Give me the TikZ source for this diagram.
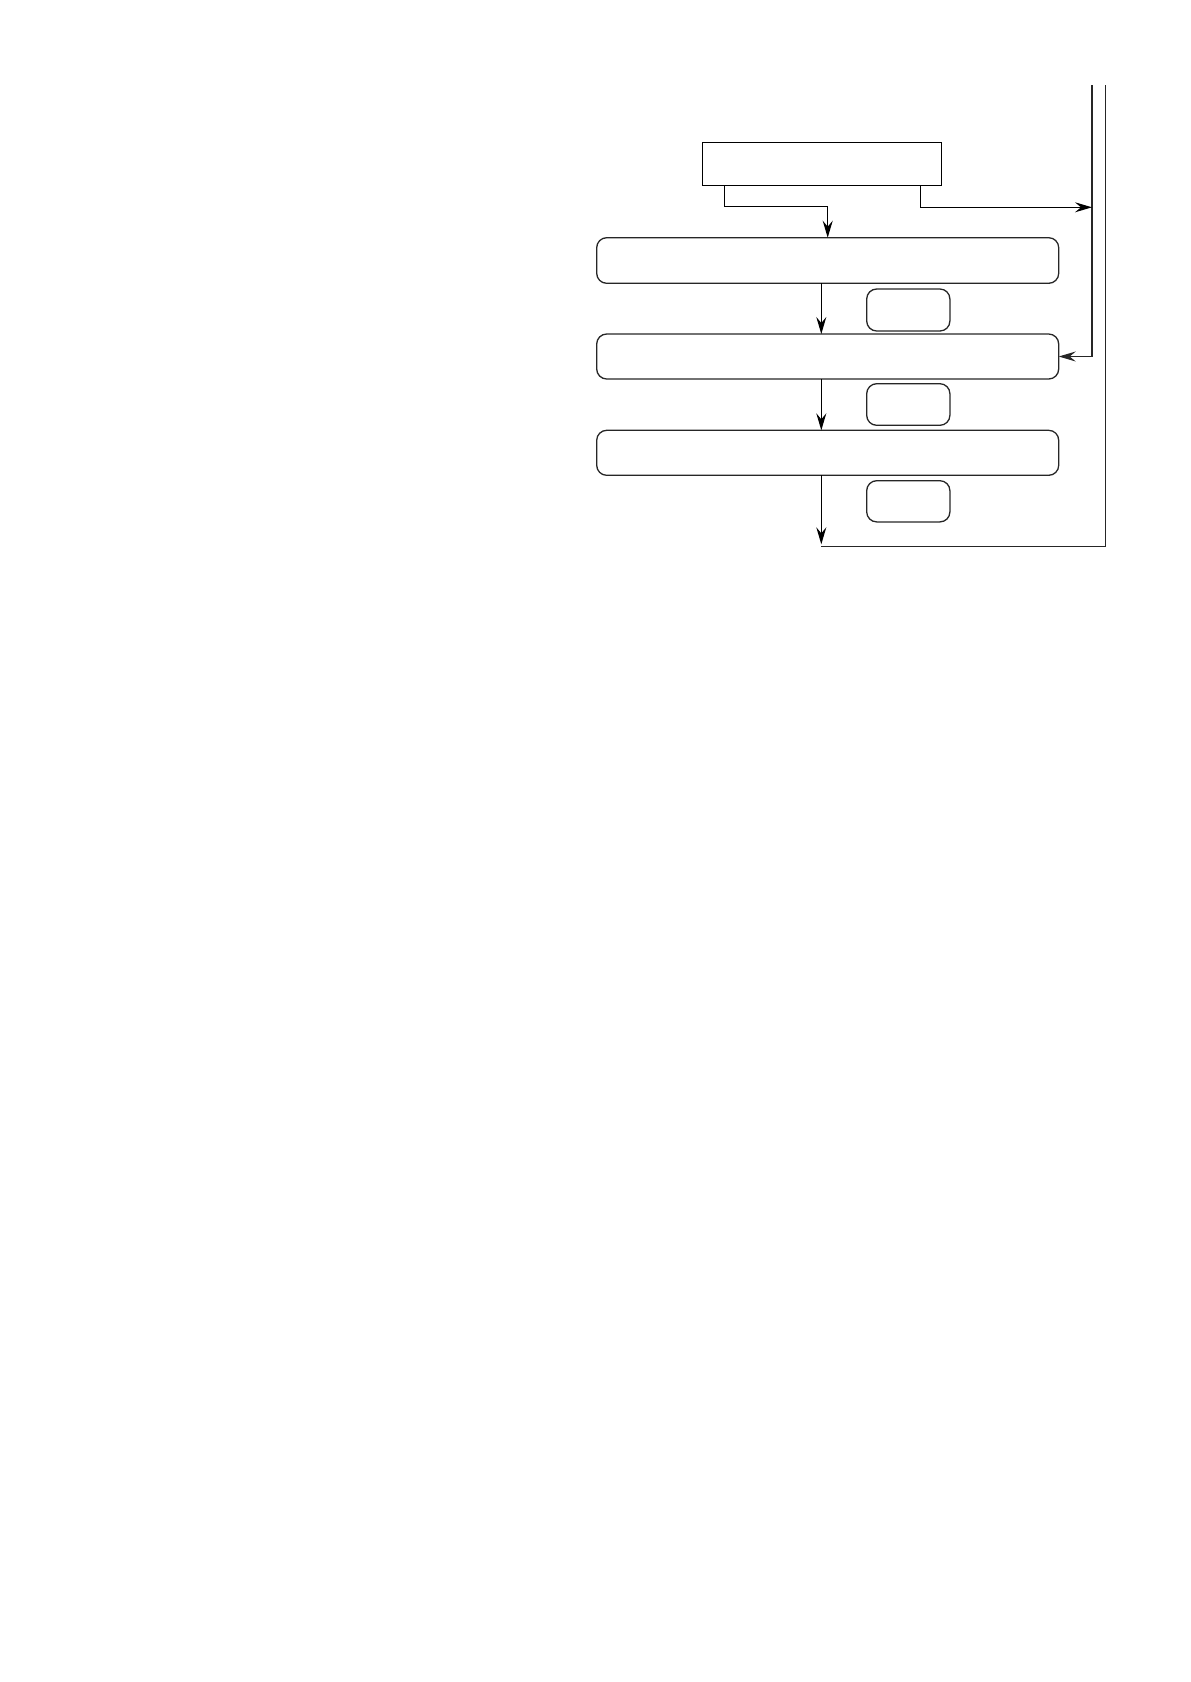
\documentclass[tikz,border=0pt]{standalone}
\usetikzlibrary{arrows.meta,calc}
\begin{document}
\begin{tikzpicture}[x=0.5pt,y=-0.5pt,
  line width=0.65pt,
  sq/.style={draw=black,line width=0.65pt,inner sep=0pt,outer sep=0pt},
  rbox/.style={draw=black!85,line width=0.65pt,rounded corners=5pt,inner sep=0pt,outer sep=0pt},
  arr/.style={-{Stealth[length=8.5pt,width=5pt,inset=3pt]}},
  rail/.style={draw=black!85,line width=0.65pt}]
\useasboundingbox (0,0) rectangle (1190,1682);
% top box
\node[sq,minimum width=119.3pt,minimum height=21.5pt] (top) at (822,163.8) {};
% wide rounded boxes
\node[rbox,minimum width=231pt,minimum height=22.8pt] (box1) at (827.7,260.5) {};
\node[rbox,minimum width=231pt,minimum height=22.5pt] (box2) at (827.7,356.5) {};
\node[rbox,minimum width=231pt,minimum height=22.5pt] (box3) at (827.7,452.8) {};
% small rounded boxes
\node[rbox,minimum width=41.6pt,minimum height=21pt] (s1) at (908.3,310) {};
\node[rbox,minimum width=41.6pt,minimum height=20.8pt] (s2) at (908.3,404.5) {};
\node[rbox,minimum width=41.6pt,minimum height=20.6pt] (s3) at (908.3,501.3) {};
% rails
\coordinate (Atop) at (1092,85);
\coordinate (Btop) at (1105.5,85);
\coordinate (Ajoin) at (1092,207.3);
\coordinate (Bend) at (821.3,546.3);
\draw[rail] (Btop) |- (Bend);
\draw[rail,arr] (Atop) |- (box2.east);
% leads from top box
\draw[arr] ($(top.south west)+(21.6,0)$) |- ($(box1.north)+(0,-31.4)$) -- (box1.north);
\draw[arr] ($(top.south west)+(218,0)$) |- (Ajoin);
% downward arrows
\draw[arr] (box1.south -| Bend) -- (box2.north -| Bend);
\draw[arr] (box2.south -| Bend) -- (box3.north -| Bend);
\draw[arr,shorten >=1pt] (box3.south -| Bend) -- (Bend);
\end{tikzpicture}
\end{document}
